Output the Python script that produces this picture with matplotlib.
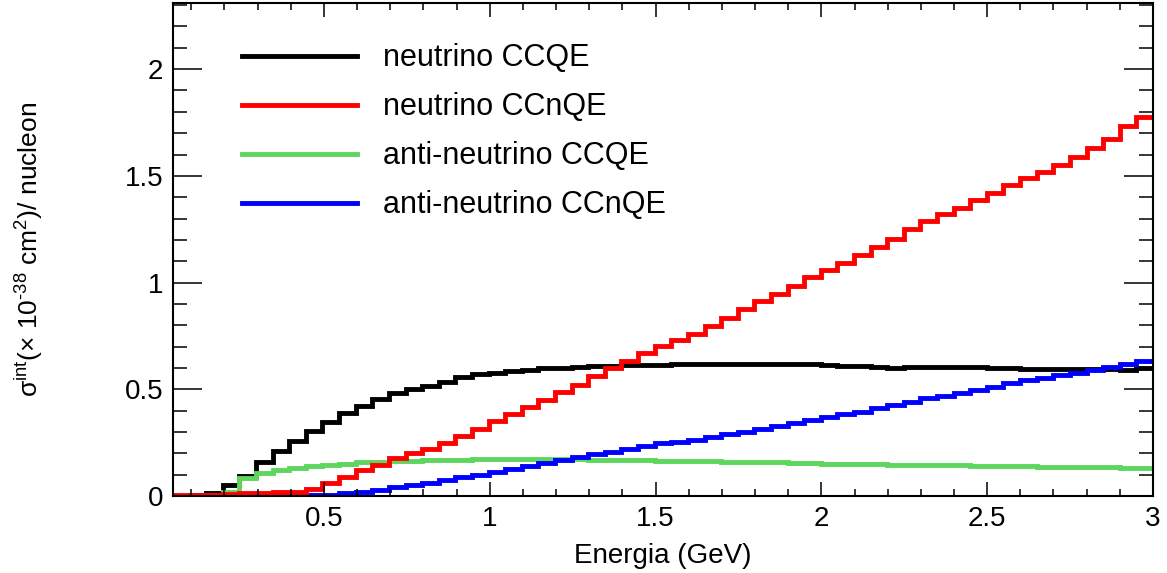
import numpy as np
import matplotlib
matplotlib.use("Agg")
import matplotlib.pyplot as plt
from matplotlib.lines import Line2D
from matplotlib.ticker import MultipleLocator, FuncFormatter

plt.rcParams["font.family"] = ["Liberation Sans", "DejaVu Sans"]
plt.rcParams["mathtext.fontset"] = "custom"
plt.rcParams["mathtext.rm"] = "Liberation Sans"
plt.rcParams["mathtext.it"] = "Liberation Sans:italic"

# histogram binning (GeV)
E_MIN, E_MAX, N_BINS = 0.045, 3.0, 59

nu_ccqe = [0.0, 0.003, 0.015, 0.050, 0.095, 0.157, 0.212, 0.258, 0.305, 0.346,
           0.387, 0.422, 0.453, 0.481, 0.500, 0.515, 0.536, 0.556, 0.570, 0.578,
           0.586, 0.592, 0.598, 0.601, 0.606, 0.609, 0.611, 0.612, 0.614, 0.616,
           0.617, 0.618, 0.619, 0.619, 0.620, 0.620, 0.619, 0.618, 0.617, 0.614,
           0.611, 0.607, 0.604, 0.602, 0.603, 0.605, 0.606, 0.606, 0.605, 0.602,
           0.599, 0.597, 0.596, 0.595, 0.594, 0.593, 0.593, 0.592, 0.600]

nu_ccnqe = [0.004, 0.004, 0.006, 0.010, 0.015, 0.016, 0.018, 0.021, 0.033, 0.060,
            0.090, 0.120, 0.147, 0.178, 0.203, 0.220, 0.250, 0.283, 0.314, 0.351,
            0.383, 0.418, 0.450, 0.486, 0.520, 0.560, 0.600, 0.633, 0.672, 0.705,
            0.730, 0.759, 0.797, 0.836, 0.876, 0.915, 0.947, 0.986, 1.028, 1.059,
            1.093, 1.129, 1.168, 1.206, 1.250, 1.287, 1.320, 1.351, 1.387, 1.418,
            1.457, 1.489, 1.517, 1.551, 1.590, 1.629, 1.671, 1.734, 1.775]

anu_ccqe = [0.0, 0.0, 0.003, 0.020, 0.083, 0.110, 0.122, 0.132, 0.140, 0.147,
            0.152, 0.157, 0.160, 0.163, 0.166, 0.168, 0.169, 0.170, 0.171, 0.172,
            0.172, 0.172, 0.172, 0.172, 0.171, 0.170, 0.169, 0.168, 0.167, 0.166,
            0.165, 0.164, 0.163, 0.161, 0.160, 0.158, 0.157, 0.155, 0.154, 0.152,
            0.151, 0.150, 0.148, 0.147, 0.146, 0.145, 0.144, 0.143, 0.142, 0.141,
            0.140, 0.139, 0.138, 0.137, 0.136, 0.135, 0.134, 0.133, 0.132]

anu_ccnqe = [0.0, 0.0, 0.0, 0.001, 0.001, 0.002, 0.002, 0.003, 0.005, 0.006,
             0.012, 0.020, 0.030, 0.040, 0.051, 0.060, 0.075, 0.088, 0.099, 0.114,
             0.127, 0.141, 0.153, 0.168, 0.181, 0.195, 0.208, 0.220, 0.234, 0.247,
             0.255, 0.263, 0.278, 0.289, 0.301, 0.314, 0.328, 0.341, 0.356, 0.370,
             0.383, 0.395, 0.411, 0.426, 0.442, 0.458, 0.469, 0.481, 0.497, 0.512,
             0.528, 0.542, 0.554, 0.567, 0.578, 0.590, 0.606, 0.617, 0.633]

labels = ["neutrino CCQE", "neutrino CCnQE", "anti-neutrino CCQE", "anti-neutrino CCnQE"]
colors = ["black", "#ff0000", "#5cd65c", "#0000ff"]

edges = np.linspace(E_MIN, E_MAX, N_BINS + 1)

fig = plt.figure(figsize=(11.67, 5.73), dpi=100)
ax = fig.add_axes([0.1482, 0.1344, 0.8398, 0.8604])

series = [nu_ccqe, nu_ccnqe, anu_ccqe, anu_ccnqe]
# drawing order: black, green, blue, red on top
for idx in [0, 2, 3, 1]:
    ax.stairs(series[idx], edges, baseline=None, color=colors[idx], linewidth=3.5)

ax.set_xlim(E_MIN, E_MAX)
ax.set_ylim(0, 2.31)

ax.xaxis.set_major_locator(MultipleLocator(0.5))
ax.xaxis.set_minor_locator(MultipleLocator(0.1))
ax.yaxis.set_major_locator(MultipleLocator(0.5))
ax.yaxis.set_minor_locator(MultipleLocator(0.1))
fmt = FuncFormatter(lambda v, p: f"{v:g}")
ax.xaxis.set_major_formatter(fmt)
ax.yaxis.set_major_formatter(fmt)

ax.tick_params(axis="both", which="both", direction="in", top=True, right=True,
               width=1.1, labelsize=20)
ax.tick_params(axis="x", which="major", length=10, pad=7)
ax.tick_params(axis="x", which="minor", length=5)
ax.tick_params(axis="y", which="major", length=21, pad=7)
ax.tick_params(axis="y", which="minor", length=10)
for sp in ax.spines.values():
    sp.set_linewidth(1.5)

ax.set_xlabel("Energia (GeV)", fontsize=20, labelpad=8)
ax.set_ylabel(r"σ$^{\rm int}$(× 10$^{\text{-38}}$ cm$^{\rm 2}$)/ nucleon", fontsize=19)
ax.yaxis.set_label_coords(-0.131, 0.5)

handles = [Line2D([], [], color=c, linewidth=3.5) for c in colors]
ax.legend(handles, labels, loc="upper left", bbox_to_anchor=(0.0704, 0.918),
          frameon=False, fontsize=22, handlelength=3.75, handletextpad=0.85,
          labelspacing=0.62, borderpad=0, borderaxespad=0)

fig.savefig("out.png", dpi=100)
